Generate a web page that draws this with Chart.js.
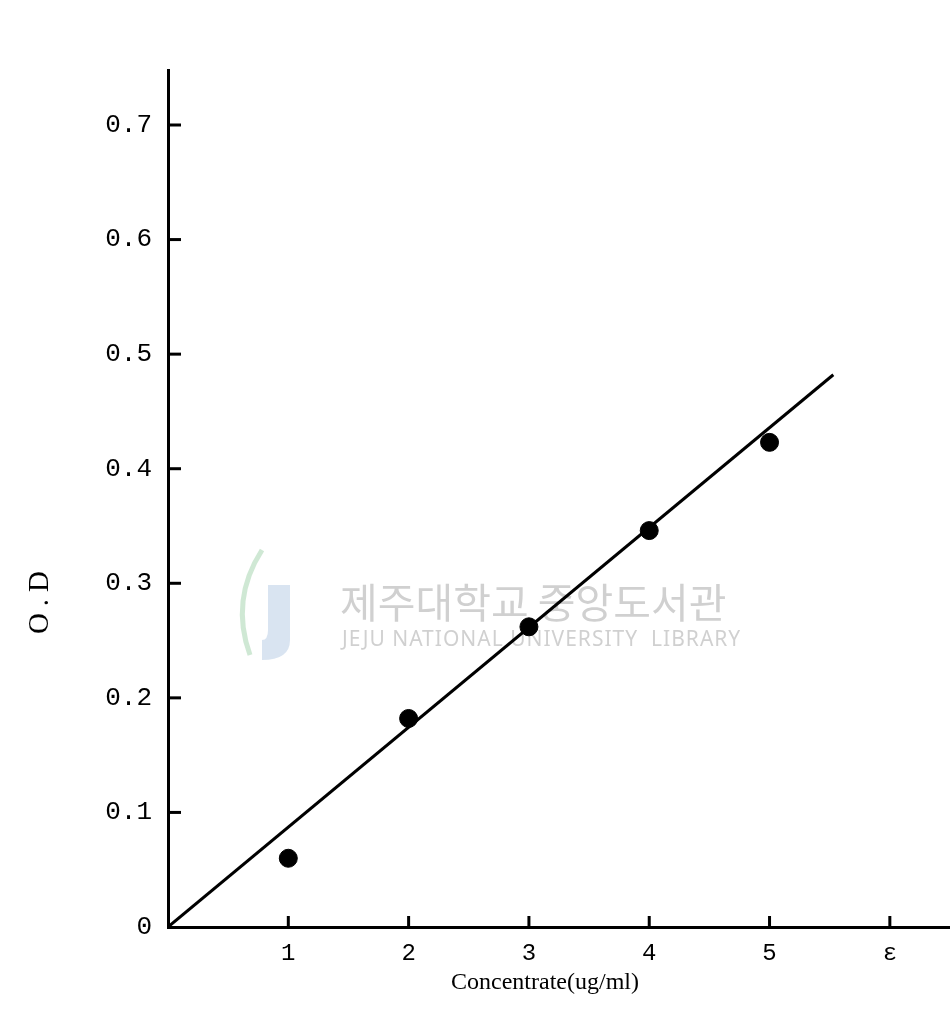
<!DOCTYPE html>
<html>
<head>
<meta charset="utf-8">
<script src="https://cdn.jsdelivr.net/npm/chart.js@4.4.1/dist/chart.umd.min.js"></script>
<style>
  html, body { margin: 0; padding: 0; background: #fff; }
  #wrap { width: 950px; height: 1021px; }
</style>
</head>
<body>
<div id="wrap"><canvas id="myChart" width="950" height="1021"></canvas></div>
<script>
// measured points
const concentration = [1, 2, 3, 4, 5];
const od = [0.06, 0.182, 0.262, 0.346, 0.423];

// fitted line, read from its two ends
const fitX = [0, 5.53];
const fitY = [0, 0.482];

const xTicks = [1, 2, 3, 4, 5, 6];
const xTickLabels = ['1', '2', '3', '4', '5', '\u03b5'];
const yTicks = [0, 0.1, 0.2, 0.3, 0.4, 0.5, 0.6, 0.7];
const yTickLabels = ['0', '0.1', '0.2', '0.3', '0.4', '0.5', '0.6', '0.7'];

const xTitle = 'Concentrate(ug/ml)';
const yTitle = 'O.D';

const ctx = document.getElementById('myChart').getContext('2d');

const extras = {
  id: 'extras',
  beforeDatasetsDraw(chart) {
    const c = chart.ctx;
    // faint library watermark
    c.save();
    c.fillStyle = 'rgba(170,195,225,0.45)';
    c.beginPath();
    c.moveTo(268, 585); c.lineTo(290, 585); c.lineTo(290, 640);
    c.quadraticCurveTo(290, 660, 262, 660); c.lineTo(262, 640);
    c.quadraticCurveTo(268, 640, 268, 630);
    c.closePath(); c.fill();
    c.strokeStyle = 'rgba(160,210,170,0.5)';
    c.lineWidth = 5;
    c.beginPath(); c.moveTo(262, 550); c.quadraticCurveTo(230, 600, 250, 655); c.stroke();
    c.fillStyle = 'rgba(150,150,150,0.45)';
    c.font = '41px "Noto Sans CJK KR"';
    c.textBaseline = 'middle';
    c.fillText('제주대학교 중앙도서관', 340, 602);
    c.font = '21px "Noto Sans"';
    c.letterSpacing = '1px';
    c.fillText('JEJU NATIONAL UNIVERSITY  LIBRARY', 342, 640);
    c.restore();
  },
  afterDraw(chart) {
    const c = chart.ctx;
    const xs = chart.scales.x, ys = chart.scales.y;
    c.save();
    c.strokeStyle = '#000';
    c.lineWidth = 3;
    // inward tick marks
    yTicks.slice(1).forEach(v => {
      const py = ys.getPixelForValue(v);
      c.beginPath(); c.moveTo(xs.left, py); c.lineTo(xs.left + 13, py); c.stroke();
    });
    xTicks.forEach(v => {
      const px = xs.getPixelForValue(v);
      c.beginPath(); c.moveTo(px, ys.bottom); c.lineTo(px, ys.bottom - 11); c.stroke();
    });
    // axis titles
    c.fillStyle = '#000';
    c.font = '24px "Liberation Serif"';
    c.textAlign = 'center';
    c.textBaseline = 'middle';
    c.fillText(xTitle, 545, 983);
    c.translate(40, 602);
    c.rotate(-Math.PI / 2);
    c.font = '29px "Liberation Serif"';
    c.letterSpacing = '7px';
    c.fillText(yTitle, 3, 0);
    c.restore();
  }
};

new Chart(ctx, {
  type: 'scatter',
  data: {
    datasets: [
      {
        label: 'fit',
        type: 'line',
        data: fitX.map((x, i) => ({ x, y: fitY[i] })),
        borderColor: '#000',
        borderWidth: 3,
        pointRadius: 0,
        fill: false
      },
      {
        label: 'O.D',
        data: concentration.map((x, i) => ({ x, y: od[i] })),
        backgroundColor: '#000',
        borderColor: '#000',
        pointRadius: 9,
        pointHoverRadius: 9
      }
    ]
  },
  options: {
    responsive: false,
    animation: false,
    layout: { autoPadding: false, padding: { top: 70, right: 0, left: 0, bottom: 0 } },
    plugins: { legend: { display: false }, tooltip: { enabled: false } },
    scales: {
      x: {
        type: 'linear',
        min: 0,
        max: 6.5,
        afterBuildTicks: s => { s.ticks = xTicks.map(v => ({ value: v })); },
        afterFit: s => { s.height = 94; s.paddingRight = 0; s.paddingLeft = 0; },
        grid: { display: false, drawTicks: false },
        border: { display: true, color: '#000', width: 3 },
        ticks: {
          color: '#000',
          padding: 12,
          maxRotation: 0,
          font: { family: 'Liberation Mono', size: 24 },
          callback: v => xTickLabels[xTicks.indexOf(v)]
        }
      },
      y: {
        min: 0,
        max: 0.748,
        afterBuildTicks: s => { s.ticks = yTicks.map(v => ({ value: v })); },
        afterFit: s => { s.width = 168; },
        grid: { display: false, drawTicks: false },
        border: { display: true, color: '#000', width: 3 },
        ticks: {
          color: '#000',
          padding: 16,
          font: { family: 'Liberation Mono', size: 26 },
          callback: v => yTickLabels[yTicks.indexOf(v)]
        }
      }
    }
  },
  plugins: [extras]
});
</script>
</body>
</html>
